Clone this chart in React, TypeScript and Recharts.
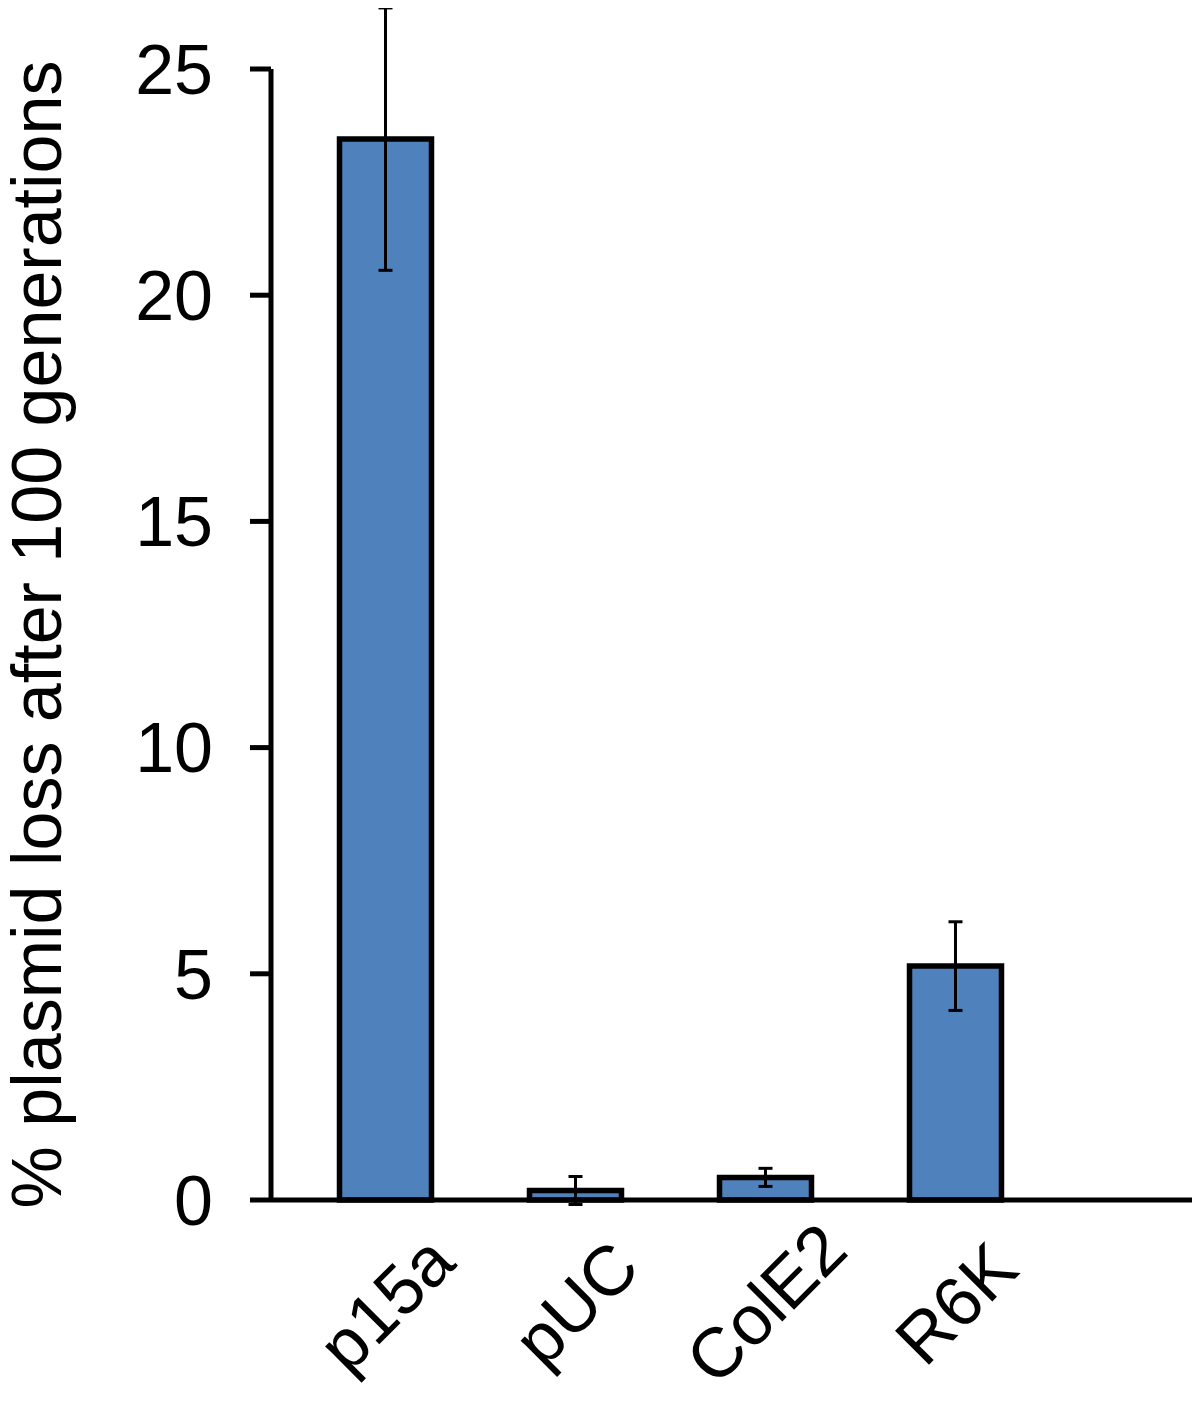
import React from 'react';
import { BarChart, Bar, XAxis, YAxis, ErrorBar, Label } from 'recharts';

const categories = ['p15a', 'pUC', 'ColE2', 'R6K'];
const lossValues = [23.45, 0.21, 0.5, 5.17];
const lossErrors = [2.9, 0.31, 0.2, 0.98];
const yTicks = [0, 5, 10, 15, 20, 25];
const yTitle = '% plasmid loss after 100 generations';

const data = categories.map((name, i) => ({ name, value: lossValues[i], err: lossErrors[i] }));

const FONT = '"Liberation Sans", Arial, Helvetica, sans-serif';

const XTick = (props: any) => {
  const { x, y, payload } = props;
  return (
    <g transform={`translate(${x},${y + 103}) rotate(-45)`}>
      <text x={0} y={0} dy="0.355em" textAnchor="middle" fontSize={70} fontFamily={FONT} fill="#000">
        {payload.value}
      </text>
    </g>
  );
};

const YTitle = (props: any) => {
  const vb = props.viewBox || { y: 61, height: 1131 };
  const cy = vb.y + vb.height / 2;
  const bx = 53;
  return (
    <text
      x={bx}
      y={cy}
      transform={`rotate(-90, ${bx}, ${cy})`}
      textAnchor="middle"
      fontSize={70}
      fontFamily={FONT}
      fill="#000"
    >
      {yTitle}
    </text>
  );
};

export default function App() {
  return (
    <div>
      <style>{`.recharts-wrapper g { clip-path: none !important; } .recharts-wrapper svg { overflow: visible; }`}</style>
      <BarChart
        width={1192}
        height={1413}
        data={data}
        margin={{ top: 61, right: 2, bottom: 0, left: 0 }}
        style={{ fontFamily: FONT }}
      >
        <XAxis
          dataKey="name"
          height={221}
          padding={{ left: 19.5, right: 147.5 }}
          tickLine={false}
          tickSize={0}
          tickMargin={0}
          interval={0}
          axisLine={{ stroke: '#000', strokeWidth: 5 }}
          tick={<XTick />}
        />
        <YAxis
          width={263}
          domain={[0, 25]}
          allowDataOverflow
          ticks={yTicks}
          interval={0}
          tickSize={21}
          tickMargin={37}
          axisLine={{ stroke: '#000', strokeWidth: 5 }}
          tickLine={{ stroke: '#000', strokeWidth: 5 }}
          tick={{ fill: '#000', fontSize: 70, fontFamily: FONT }}
        >
          <Label content={<YTitle />} />
        </YAxis>
        <Bar
          dataKey="value"
          fill="#4F81BD"
          stroke="#000"
          strokeWidth={5.5}
          barSize={92}
          isAnimationActive={false}
        >
          <ErrorBar dataKey="err" width={7} strokeWidth={3} stroke="#000" isAnimationActive={false} />
        </Bar>
      </BarChart>
    </div>
  );
}
